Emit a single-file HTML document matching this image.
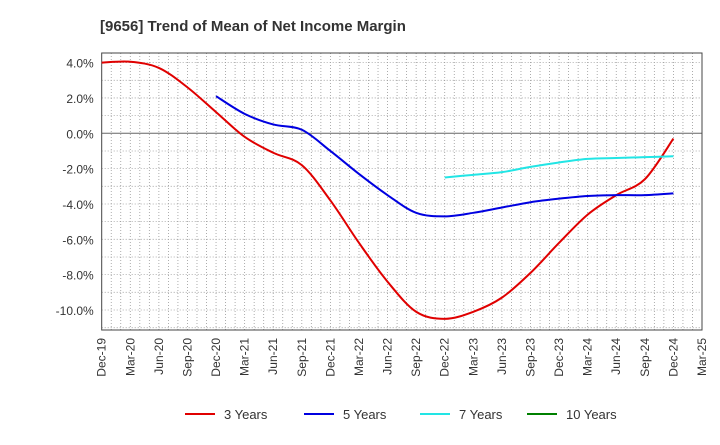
<!DOCTYPE html>
<html><head><meta charset="utf-8"><style>
body{margin:0;background:#fff;font-family:"Liberation Sans",sans-serif}
</style></head><body>
<svg id="c" width="720" height="440" xmlns="http://www.w3.org/2000/svg">
<text x="100" y="31" font-size="15" font-weight="bold" fill="#333">[9656]  Trend of Mean of Net Income Margin</text>
</svg>
<script>
const xLabels=["Dec-19","Mar-20","Jun-20","Sep-20","Dec-20","Mar-21","Jun-21","Sep-21","Dec-21","Mar-22","Jun-22","Sep-22","Dec-22","Mar-23","Jun-23","Sep-23","Dec-23","Mar-24","Jun-24","Sep-24","Dec-24","Mar-25"];
const yTicks=[4,2,0,-2,-4,-6,-8,-10];
const s3=[4.0,4.05,3.7,2.6,1.2,-0.2,-1.1,-1.8,-3.8,-6.2,-8.4,-10.1,-10.5,-10.1,-9.3,-7.9,-6.2,-4.6,-3.5,-2.6,-0.3];
const s5=[null,null,null,null,2.1,1.1,0.5,0.2,-1.0,-2.3,-3.5,-4.5,-4.7,-4.5,-4.2,-3.9,-3.7,-3.55,-3.5,-3.5,-3.4];
const s7=[null,null,null,null,null,null,null,null,null,null,null,null,-2.5,-2.35,-2.2,-1.9,-1.65,-1.45,-1.4,-1.35,-1.3];
const s10=[];
const svg=document.getElementById('c');const NS="http://www.w3.org/2000/svg";
const L=101.7,R=702,T=53,B=330;
const X=q=>L+q*3*(R-L)/63;
const Y=v=>133.3-v*17.67;
function el(t,a,p){const e=document.createElementNS(NS,t);for(const k in a)e.setAttribute(k,a[k]);(p||svg).appendChild(e);return e;}
const bg=el('rect',{x:L,y:T,width:R-L,height:B-T,fill:'#fff'});


for(let m=1;m<63;m++){const x=L+m*(R-L)/63;const g=el('line',{x1:x,x2:x,y1:T,y2:B,stroke:'#999','stroke-dasharray':'1,2','stroke-width':0.8});

}
for(let v=4;v>=-11;v--){if(v===0)continue;const y=Y(v);if(y<T||y>B)continue;const g=el('line',{x1:L,x2:R,y1:y,y2:y,stroke:'#999','stroke-dasharray':'1,2','stroke-width':0.8});

}
const z=el('line',{x1:L,x2:R,y1:Y(0),y2:Y(0),stroke:'#666','stroke-width':1});


const fr=el('rect',{x:L,y:T,width:R-L,height:B-T,fill:'none',stroke:'#444','stroke-width':1});


yTicks.forEach(v=>{const t=el('text',{x:L-8,y:Y(v)+5,'text-anchor':'end','font-size':12,fill:'#333'});t.textContent=v.toFixed(1)+'%';

});
xLabels.forEach((s,i)=>{const x=X(i);const t=el('text',{x:0,y:0,'text-anchor':'end','font-size':12,fill:'#333',transform:`translate(${x+4},${B+8}) rotate(-90)`});t.textContent=s;

});
function path(d){const p=[];d.forEach((v,i)=>{if(v!=null)p.push([X(i),Y(v)]);});if(p.length<2)return'';let s=`M${p[0][0]},${p[0][1]}`;
for(let i=0;i<p.length-1;i++){const p0=p[i-1]||p[i],p1=p[i],p2=p[i+1],p3=p[i+2]||p2;
s+=` C${p1[0]+(p2[0]-p0[0])/6},${p1[1]+(p2[1]-p0[1])/6} ${p2[0]-(p3[0]-p1[0])/6},${p2[1]-(p3[1]-p1[1])/6} ${p2[0]},${p2[1]}`;}return s;}
[[s3,'#e00000','series-3-years'],[s5,'#0000e0','series-5-years'],[s7,'#22e5e5','series-7-years'],[s10,'#008000','series-10-years']].forEach(([d,c,n])=>{const dd=path(d);if(!dd)return;const e=el('path',{d:dd,fill:'none',stroke:c,'stroke-width':2});

});
[['3 Years','#e00000',185],['5 Years','#0000e0',304],['7 Years','#22e5e5',420],['10 Years','#008000',527]].forEach(([n,c,x])=>{const g=el('g',{});


el('line',{x1:x,x2:x+30,y1:414,y2:414,stroke:c,'stroke-width':2},g);const t=el('text',{x:x+39,y:419,'font-size':13,fill:'#333'},g);t.textContent=n;});
</script>
</body></html>
